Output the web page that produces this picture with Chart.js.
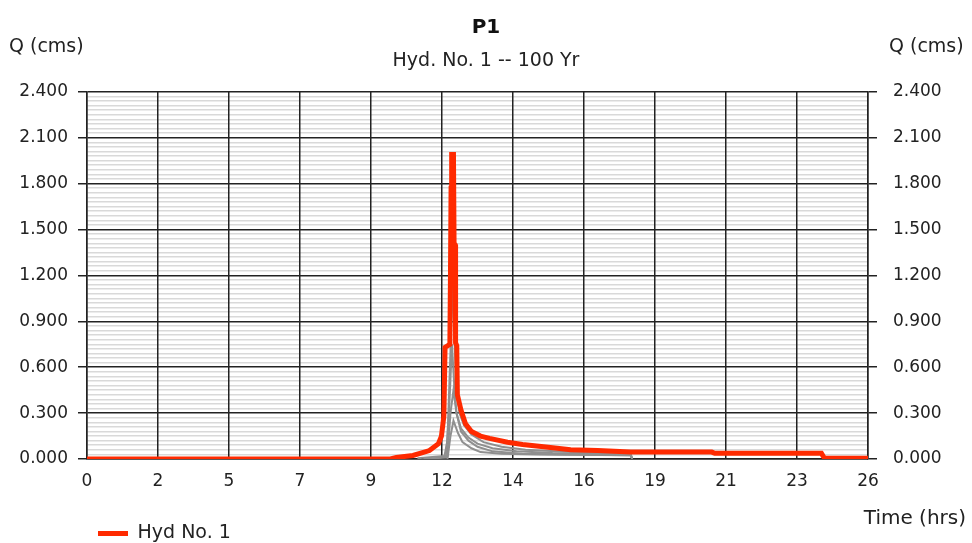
<!DOCTYPE html>
<html>
<head>
<meta charset="utf-8">
<script src="https://cdn.jsdelivr.net/npm/chart.js@4.4.1/dist/chart.umd.min.js"></script>
<style>
  html, body { margin: 0; padding: 0; background: #fff; }
</style>
</head>
<body>
<canvas id="chart" width="972" height="543"></canvas>
<script>
// axis setup
const X_MAX = 26;
const Y_MAX = 2.4;
const Y_MAJOR = 0.3;
const Y_MINOR = 0.03;
const xTickLabels = ["0", "2", "5", "7", "9", "12", "14", "16", "19", "21", "23", "26"];
const yTickLabels = ["0.000", "0.300", "0.600", "0.900", "1.200", "1.500", "1.800", "2.100", "2.400"];

// Hyd No. 1 (red)
const hydTimes = [0, 10.1, 10.3, 10.85, 11.4, 11.7, 11.8, 11.88, 11.92, 12.08, 12.1, 12.12, 12.14, 12.2, 12.22, 12.26, 12.27, 12.31, 12.33, 12.45, 12.6, 12.8, 13.1, 13.4, 14.0, 14.5, 15.2, 16.1, 17.0, 18.1, 20.8, 20.9, 24.45, 24.55, 26];
const hydQ = [0, 0, 0.01, 0.023, 0.055, 0.1, 0.15, 0.28, 0.73, 0.75, 1.2, 1.77, 1.99, 1.99, 1.41, 1.4, 0.76, 0.74, 0.42, 0.32, 0.23, 0.18, 0.15, 0.135, 0.11, 0.095, 0.08, 0.06, 0.055, 0.045, 0.045, 0.037, 0.037, 0.005, 0.005];

// inflow hydrographs (grey)
const g1Times = [11.0, 11.9, 12.0, 12.1, 12.17, 12.24, 12.3, 12.4, 12.55, 12.8, 13.2, 13.8, 14.6, 15.6, 17.0, 18.1, 18.15];
const g1Q = [0.005, 0.02, 0.12, 0.7, 1.18, 0.75, 0.45, 0.3, 0.22, 0.16, 0.11, 0.08, 0.06, 0.05, 0.04, 0.035, 0];
const g2Times = [11.2, 11.95, 12.05, 12.15, 12.22, 12.3, 12.45, 12.7, 13.0, 13.5, 14.3, 15.5, 17.0, 18.1, 18.15];
const g2Q = [0, 0.01, 0.3, 0.75, 0.5, 0.3, 0.2, 0.14, 0.1, 0.07, 0.05, 0.04, 0.035, 0.03, 0];
const g3Times = [11.5, 12.0, 12.1, 12.2, 12.3, 12.45, 12.7, 13.0, 13.5, 14.5, 16.0, 18.1, 18.15];
const g3Q = [0, 0.02, 0.3, 0.45, 0.3, 0.18, 0.12, 0.08, 0.05, 0.035, 0.03, 0.025, 0];
const g4Times = [12.0, 12.1, 12.2, 12.35, 12.5, 12.8, 13.1, 13.8, 15.0, 18.1, 18.15];
const g4Q = [0, 0.15, 0.25, 0.17, 0.11, 0.07, 0.045, 0.035, 0.03, 0.025, 0];

// baseline segment (black)
const baseTimes = [12.0, 19.9];
const baseQ = [0, 0];

const RED = "#ff2a00";
const GREY = "#8f8f8f";
const INK = "#222";
const FONT = "'DejaVu Sans', Verdana, sans-serif";

function pts(times, values) {
  return times.map((t, i) => ({ x: t, y: values[i] }));
}

function isMajor(v) {
  const r = v / Y_MAJOR;
  return Math.abs(r - Math.round(r)) < 1e-6;
}

function yLabel(v) {
  return isMajor(v) ? yTickLabels[Math.round(v / Y_MAJOR)] : "";
}

function yTicks(scale) {
  const ticks = [];
  const n = Math.round(Y_MAX / Y_MINOR);
  for (let i = 0; i <= n; i++) ticks.push({ value: +(i * Y_MINOR).toFixed(4) });
  scale.ticks = ticks;
}

Chart.defaults.font.family = FONT;
Chart.defaults.font.size = 17;
Chart.defaults.color = INK;

const greyLine = (times, values) => ({
  label: "inflow",
  data: pts(times, values),
  borderColor: GREY,
  borderWidth: 2,
  pointRadius: 0
});

// axis captions outside the plot
const captions = {
  id: "captions",
  afterDraw(chart) {
    const { ctx, chartArea } = chart;
    ctx.save();
    ctx.fillStyle = INK;
    ctx.font = "19px " + FONT;
    ctx.textBaseline = "middle";
    ctx.textAlign = "left";
    ctx.fillText("Q (cms)", 9, 47);
    ctx.fillText("Q (cms)", chartArea.right + 21, 47);
    ctx.textAlign = "right";
    ctx.font = "20px " + FONT;
    ctx.fillText("Time (hrs)", 966, chartArea.bottom + 60);
    ctx.restore();
  }
};

const legendShift = {
  id: "legendShift",
  afterLayout(chart) {
    const lg = chart.legend;
    if (lg) {
      lg.left += 98;
      lg.right += 98;
      lg.top += 10;
      lg.bottom += 10;
    }
  }
};

new Chart(document.getElementById("chart"), {
  type: "line",
  data: {
    datasets: [
      {
        label: "Hyd No. 1",
        data: pts(hydTimes, hydQ),
        borderColor: RED,
        backgroundColor: RED,
        borderWidth: 5,
        pointRadius: 0
      },
      greyLine(g1Times, g1Q),
      greyLine(g2Times, g2Q),
      greyLine(g3Times, g3Q),
      greyLine(g4Times, g4Q),
      {
        label: "base",
        data: pts(baseTimes, baseQ),
        borderColor: INK,
        borderWidth: 2,
        pointRadius: 0
      }
    ]
  },
  options: {
    responsive: false,
    animation: false,
    layout: { padding: 0 },
    scales: {
      x: {
        type: "linear",
        min: 0,
        max: X_MAX,
        afterBuildTicks(scale) {
          const n = xTickLabels.length - 1;
          scale.ticks = xTickLabels.map((_, i) => ({ value: i * X_MAX / n }));
        },
        afterFit(scale) { scale.height = 55; },
        ticks: {
          autoSkip: false,
          maxRotation: 0,
          padding: 12,
          callback: (v, i) => xTickLabels[i]
        },
        grid: { color: INK, lineWidth: 1.5, drawTicks: false, z: -1 },
        border: { color: INK, width: 1.5 }
      },
      y: {
        position: "left",
        min: 0,
        max: Y_MAX,
        afterBuildTicks: yTicks,
        afterFit(scale) { scale.width = 87; },
        ticks: { autoSkip: false, padding: 10, callback: yLabel },
        grid: {
          z: -2,
          color: c => isMajor(c.tick.value) ? INK : "#d9d9d9",
          lineWidth: 1.5,
          tickLength: 9,
          tickColor: c => isMajor(c.tick.value) ? INK : "rgba(0,0,0,0)"
        },
        border: { color: INK, width: 1.5 }
      },
      y2: {
        position: "right",
        min: 0,
        max: Y_MAX,
        afterBuildTicks: yTicks,
        afterFit(scale) { scale.width = 104; },
        ticks: { autoSkip: false, padding: 16, callback: yLabel },
        grid: {
          drawOnChartArea: false,
          lineWidth: 1.5,
          tickLength: 9,
          tickColor: c => isMajor(c.tick.value) ? INK : "rgba(0,0,0,0)"
        },
        border: { color: INK, width: 1.5 }
      }
    },
    plugins: {
      title: {
        display: true,
        text: "P1",
        color: "#111",
        font: { size: 20, weight: "bold" },
        padding: { top: 16, bottom: 6 }
      },
      subtitle: {
        display: true,
        text: "Hyd. No. 1 -- 100 Yr",
        font: { size: 19 },
        padding: { top: 4, bottom: 19 }
      },
      legend: {
        position: "bottom",
        align: "start",
        labels: {
          filter: item => item.datasetIndex === 0,
          usePointStyle: true,
          pointStyle: "line",
          pointStyleWidth: 30,
          padding: 0,
          font: { size: 19 }
        }
      },
      tooltip: { enabled: false }
    }
  },
  plugins: [captions, legendShift]
});
</script>
</body>
</html>
